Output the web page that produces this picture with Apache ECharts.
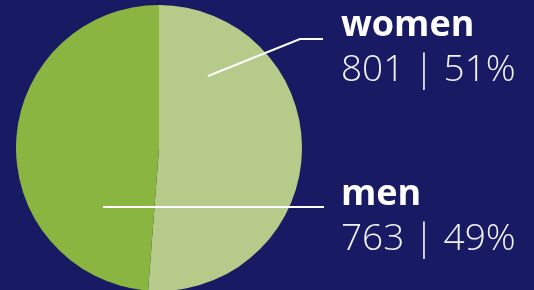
<!DOCTYPE html>
<html>
<head>
<meta charset="utf-8">
<script src="https://cdn.jsdelivr.net/npm/echarts@6/dist/echarts.min.js"></script>
<style>
  html, body { margin: 0; padding: 0; background: #181a63; }
  #chart { width: 534px; height: 290px; }
</style>
</head>
<body>
<div id="chart"></div>
<script>
'use strict';

// data
var groups = ['women', 'men'];
var counts = [801, 763];
var colors = ['#b6cb89', '#89b540'];

// pie geometry (px)
var CX = 159, CY = 148, R = 143;

function pieData(transparent) {
    return groups.map(function (g, i) {
        return {
            name: g,
            value: counts[i],
            itemStyle: { color: transparent ? 'rgba(0,0,0,0)' : colors[i] }
        };
    });
}

var myChart = echarts.init(document.getElementById('chart'));

var option = {
    backgroundColor: '#181a63',
    animation: false,
    series: [{
        // the slices
        type: 'pie',
        z: 2,
        center: [CX, CY],
        radius: R,
        startAngle: 90,
        clockwise: true,
        silent: true,
        itemStyle: { borderWidth: 0 },
        label: { show: false },
        labelLine: { show: false },
        data: pieData(false)
    }, {
        // same data again, invisible, only to put labels + lines above the slices
        type: 'pie',
        z: 5,
        center: [CX, CY],
        radius: R,
        startAngle: 90,
        clockwise: true,
        silent: true,
        percentPrecision: 0,
        avoidLabelOverlap: false,
        itemStyle: { borderWidth: 0 },
        data: pieData(true),
        label: {
            show: true,
            position: 'outside',
            fontFamily: 'Open Sans',
            color: '#fff',
            formatter: function (p) {
                return '{n|' + p.name + '}\n{v|' + p.value + ' | ' + p.percent + '%}';
            },
            rich: {
                n: { fontSize: 36, fontWeight: 'bold', color: '#fff', fontFamily: 'Open Sans', lineHeight: 45 },
                v: { fontSize: 37, fontWeight: 300, color: '#f2f2f7', fontFamily: 'Open Sans', lineHeight: 45 }
            }
        },
        labelLine: {
            show: true,
            lineStyle: { color: '#fff', width: 2 }
        },
        labelLayout: function (p) {
            if (p.dataIndex === 0) {
                return {
                    x: 341, y: 3, align: 'left', verticalAlign: 'top',
                    labelLinePoints: [[CX + 49, CY - 72], [300, 39], [323, 39]]
                };
            }
            return {
                x: 341, y: 172, align: 'left', verticalAlign: 'top',
                labelLinePoints: [[CX - 56, CY + 59], [250, CY + 59], [324, CY + 59]]
            };
        }
    }]
};

myChart.setOption(option);
</script>
</body>
</html>
